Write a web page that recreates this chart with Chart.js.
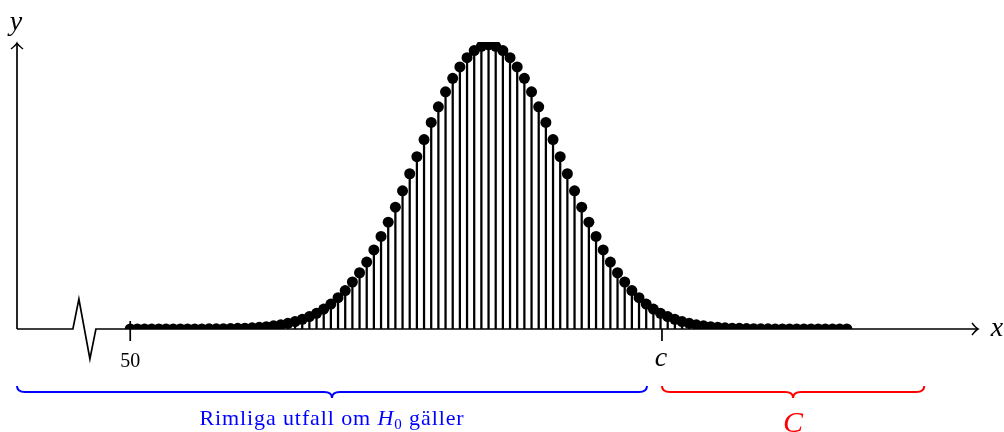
<!DOCTYPE html>
<html>
<head>
<meta charset="utf-8">
<script src="https://cdn.jsdelivr.net/npm/chart.js@4.4.1/dist/chart.umd.min.js"></script>
<style>
  body { margin: 0; background: #fff; }
  canvas { display: block; }
</style>
</head>
<body>
<canvas id="myChart" width="1004" height="432"></canvas>
<script>
// utfall (x) och sannolikhet (y, i promille)
const outcomes = [
    50, 51, 52, 53, 54, 55, 56, 57, 58, 59,
    60, 61, 62, 63, 64, 65, 66, 67, 68, 69,
    70, 71, 72, 73, 74, 75, 76, 77, 78, 79,
    80, 81, 82, 83, 84, 85, 86, 87, 88, 89,
    90, 91, 92, 93, 94, 95, 96, 97, 98, 99,
    100, 101, 102, 103, 104, 105, 106, 107, 108, 109,
    110, 111, 112, 113, 114, 115, 116, 117, 118, 119,
    120, 121, 122, 123, 124, 125, 126, 127, 128, 129,
    130, 131, 132, 133, 134, 135, 136, 137, 138, 139,
    140, 141, 142, 143, 144, 145, 146, 147, 148, 149,
    150
];
const probs = [
    0, 0, 0, 0, 0, 0, 0, 0, 0, 0.01,
    0.01, 0.02, 0.03, 0.04, 0.06, 0.09, 0.12, 0.17, 0.24, 0.33,
    0.44, 0.59, 0.79, 1.04, 1.36, 1.75, 2.2, 2.8, 3.5, 4.4,
    5.4, 6.6, 7.9, 9.4, 11.1, 13.0, 15.0, 17.1, 19.4, 21.8,
    24.2, 26.6, 29.0, 31.2, 33.3, 35.2, 36.8, 38.1, 39.1, 39.7,
    39.9, 39.7, 39.1, 38.1, 36.8, 35.2, 33.3, 31.2, 29.0, 26.6,
    24.2, 21.8, 19.4, 17.1, 15.0, 13.0, 11.1, 9.4, 7.9, 6.6,
    5.4, 4.4, 3.5, 2.8, 2.2, 1.75, 1.36, 1.04, 0.79, 0.59,
    0.44, 0.33, 0.24, 0.17, 0.12, 0.09, 0.06, 0.04, 0.03, 0.02,
    0.01, 0.01, 0, 0, 0, 0, 0, 0, 0, 0,
    0
];
const tickLabel = '50';
const critValue = 124.2;   // c
const xMin = 34.2, xMax = 168.3;
const yMax = 40.3;

const points = outcomes.map((x, i) => ({ x: x, y: probs[i] }));

const serif = '"Liberation Serif", "DejaVu Serif", serif';

function brace(ctx, x1, x2, yTop, depth, color) {
    // klammer som pekar nedåt
    const mid = (x1 + x2) / 2;
    const yLine = yTop + depth * 0.5;
    const r = 8;
    ctx.save();
    ctx.strokeStyle = color;
    ctx.lineWidth = 2;
    ctx.beginPath();
    ctx.moveTo(x1, yTop);
    ctx.quadraticCurveTo(x1, yLine, x1 + r, yLine);
    ctx.lineTo(mid - r, yLine);
    ctx.quadraticCurveTo(mid, yLine, mid, yTop + depth);
    ctx.quadraticCurveTo(mid, yLine, mid + r, yLine);
    ctx.lineTo(x2 - r, yLine);
    ctx.quadraticCurveTo(x2, yLine, x2, yTop);
    ctx.stroke();
    ctx.restore();
}

const decor = {
    id: 'decor',
    beforeDatasetsDraw(chart) {
        const ctx = chart.ctx;
        const xs = chart.scales.x, ys = chart.scales.y;
        const area = chart.chartArea;
        const y0 = ys.getPixelForValue(0);
        ctx.save();
        ctx.strokeStyle = '#000';
        ctx.lineWidth = 1.7;
        ctx.lineJoin = 'miter';
        // y-axel
        ctx.beginPath();
        ctx.moveTo(area.left, y0);
        ctx.lineTo(area.left, area.top + 1);
        ctx.stroke();
        // x-axel med brytning
        const zx = xs.getPixelForValue(42);
        ctx.beginPath();
        ctx.moveTo(area.left, y0);
        ctx.lineTo(zx, y0);
        ctx.lineTo(zx + 6, y0 - 30);
        ctx.lineTo(zx + 17, y0 + 30);
        ctx.lineTo(zx + 23, y0);
        ctx.lineTo(area.right, y0);
        ctx.stroke();
        // pilspetsar
        ctx.lineWidth = 1.5;
        ctx.beginPath();
        ctx.moveTo(area.right - 6, y0 - 6);
        ctx.quadraticCurveTo(area.right - 2, y0 - 1, area.right, y0);
        ctx.quadraticCurveTo(area.right - 2, y0 + 1, area.right - 6, y0 + 6);
        ctx.moveTo(area.left - 6, area.top + 7);
        ctx.quadraticCurveTo(area.left - 1, area.top + 3, area.left, area.top + 1);
        ctx.quadraticCurveTo(area.left + 1, area.top + 3, area.left + 6, area.top + 7);
        ctx.stroke();
        // streck vid 50 och c
        ctx.lineWidth = 1.7;
        const x50 = xs.getPixelForValue(50);
        const xc = xs.getPixelForValue(critValue);
        ctx.beginPath();
        ctx.moveTo(x50, y0 - 8);
        ctx.lineTo(x50, y0 + 12);
        ctx.moveTo(xc, y0);
        ctx.lineTo(xc, y0 + 12);
        ctx.stroke();
        ctx.restore();
    },
    afterDraw(chart) {
        const ctx = chart.ctx;
        const xs = chart.scales.x, ys = chart.scales.y;
        const area = chart.chartArea;
        const y0 = ys.getPixelForValue(0);
        const x50 = xs.getPixelForValue(50);
        const xc = xs.getPixelForValue(critValue);
        ctx.save();
        ctx.fillStyle = '#000';
        ctx.textAlign = 'center';
        ctx.textBaseline = 'alphabetic';
        ctx.font = '20px ' + serif;
        ctx.fillText(tickLabel, x50, y0 + 38);
        ctx.font = 'italic 28px ' + serif;
        ctx.fillText('c', xc - 1, y0 + 37);
        ctx.fillText('y', area.left - 1, 30);
        ctx.fillText('x', area.right + 19, y0 + 7);

        // klamrar
        const blueEnd = xc - 15;
        brace(ctx, area.left, blueEnd, y0 + 57, 12, '#0000ff');
        const redEnd = xs.getPixelForValue(160.8);
        brace(ctx, xc, redEnd, y0 + 57, 12, '#ff0000');

        // text under blå klammer
        ctx.letterSpacing = '0.9px';
        const parts = [
            { t: 'Rimliga utfall om ', f: '22px ' + serif, dy: 0 },
            { t: 'H', f: 'italic 22px ' + serif, dy: 0 },
            { t: '0', f: '15px ' + serif, dy: 4 },
            { t: ' gäller', f: '22px ' + serif, dy: 0 }
        ];
        let total = 0;
        parts.forEach(p => { ctx.font = p.f; p.w = ctx.measureText(p.t).width; total += p.w; });
        let tx = (area.left + blueEnd) / 2 - total / 2;
        ctx.textAlign = 'left';
        ctx.fillStyle = '#0000ff';
        parts.forEach(p => {
            ctx.font = p.f;
            ctx.fillText(p.t, tx, y0 + 96 + p.dy);
            tx += p.w;
        });
        ctx.letterSpacing = '0px';

        ctx.fillStyle = '#ff0000';
        ctx.textAlign = 'center';
        ctx.font = 'italic 30px ' + serif;
        ctx.fillText('C', (xc + redEnd) / 2, y0 + 103);
        ctx.restore();
    }
};

const ctx = document.getElementById('myChart').getContext('2d');
const myChart = new Chart(ctx, {
    type: 'bar',
    data: {
        datasets: [
            {
                type: 'scatter',
                data: points,
                backgroundColor: '#000',
                borderColor: '#000',
                pointRadius: 5.5,
                pointHoverRadius: 5.5,
                borderWidth: 0,
                order: 0
            },
            {
                type: 'bar',
                data: points,
                backgroundColor: '#000',
                barThickness: 1.6,
                order: 1
            }
        ]
    },
    options: {
        responsive: false,
        animation: false,
        events: [],
        layout: { padding: { left: 17, right: 26, top: 42, bottom: 103 } },
        plugins: { legend: { display: false }, tooltip: { enabled: false } },
        scales: {
            x: { type: 'linear', min: xMin, max: xMax, display: false, offset: false },
            y: { type: 'linear', min: 0, max: yMax, display: false }
        }
    },
    plugins: [decor]
});
</script>
</body>
</html>
